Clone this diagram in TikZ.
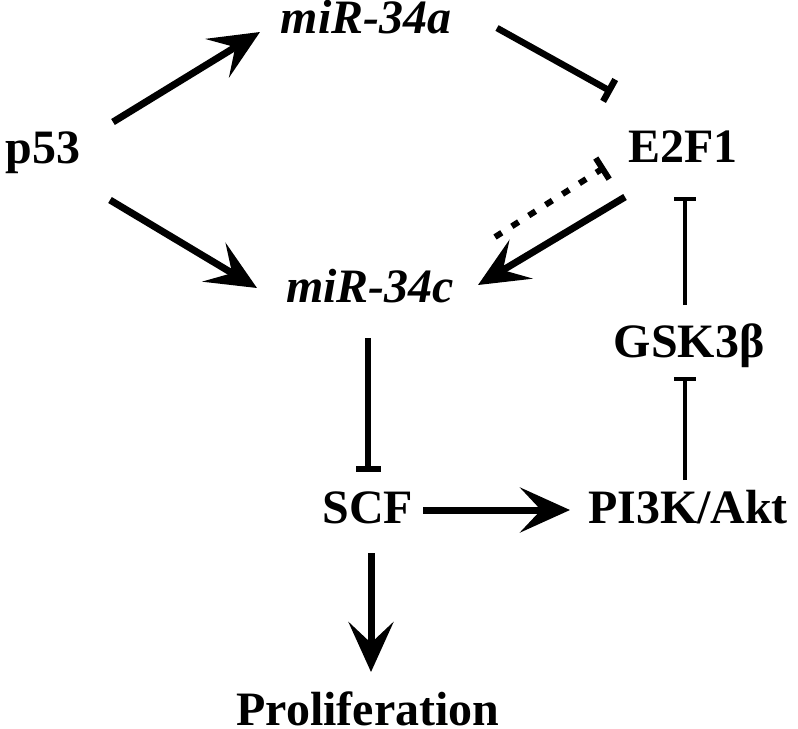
\documentclass[tikz,border=0pt]{standalone}
\usepackage{fontspec}
\setmainfont{Liberation Serif}
\usepackage{tikz}
\usetikzlibrary{arrows.meta}
\tikzset{
    >={Stealth[length=1.0cm, width=0.9cm, inset=0.42cm]}, % Default arrow tip
    gene/.style={anchor=base, inner sep=0pt, font=\fontsize{27.3}{30}\selectfont\bfseries},
    mirna/.style={gene, font=\fontsize{27.3}{30}\selectfont\bfseries\itshape},
    act/.style={->, line width=0.14cm},
    inh/.style={-{Bar[width=0.5cm]}, line width=0.13cm},
    weakinh/.style={-{Bar[width=0.44cm]}, line width=0.08cm}
}

\begin{document}
\begin{tikzpicture}[x=0.02cm, y=-0.02cm]
    \useasboundingbox (0, 0) rectangle (798, 728);
    \draw
        node [gene] (p53) at (43, 163) {p53}
        node [mirna] (mir34a) at (366, 33) {miR-34a}
        node [gene] (e2f1) at (683, 162) {E2F1}
        node [mirna] (mir34c) at (370, 302) {miR-34c}
        node [gene] (gsk) at (689, 357) {GSK3β}
        node [gene] (scf) at (368, 523) {SCF}
        node [gene] (pi3k) at (688, 523) {PI3K/Akt}
        node [gene] (prolif) at (368, 725) {Proliferation}
    ;
    % activation
    \draw
        [act]
        ([shift={(70, -41)}]p53.base) -- ([shift={(-106, -1)}]mir34a.base)
    ;
    \draw
        [act]
        ([shift={(67, 37)}]p53.base) -- ([shift={(-113, -14)}]mir34c.base)
    ;
    \draw
        [act]
        ([shift={(-58, 35)}]e2f1.base) -- ([shift={(108, -17)}]mir34c.base)
    ;
    \draw
        [act]
        ([shift={(55, -13)}]scf.base) -- ([shift={(-118, -13)}]pi3k.base)
    ;
    \draw
        [act]
        ([shift={(3, 30)}]scf.base) -- ([shift={(3, -53)}]prolif.base)
    ;
    % inhibition
    \draw
        [inh]
        ([shift={(131, -5)}]mir34a.base) -- ([shift={(-71, -70)}]e2f1.base)
    ;
    \draw
        [inh]
        ([shift={(-2, 36)}]mir34c.base) -- ([shift={(0, -51)}]scf.base)
    ;
    \draw
        [inh, line width=0.12cm, dash pattern=on 0.16cm off 0.24cm]
        ([shift={(125, -65)}]mir34c.base) -- ([shift={(-78, 5)}]e2f1.base)
    ;
    \draw
        [weakinh]
        ([shift={(-3, -43)}]pi3k.base) -- ([shift={(-4, 20)}]gsk.base)
    ;
    \draw
        [weakinh]
        ([shift={(-4, -52)}]gsk.base) -- ([shift={(2, 35)}]e2f1.base)
    ;
\end{tikzpicture}
\end{document}
